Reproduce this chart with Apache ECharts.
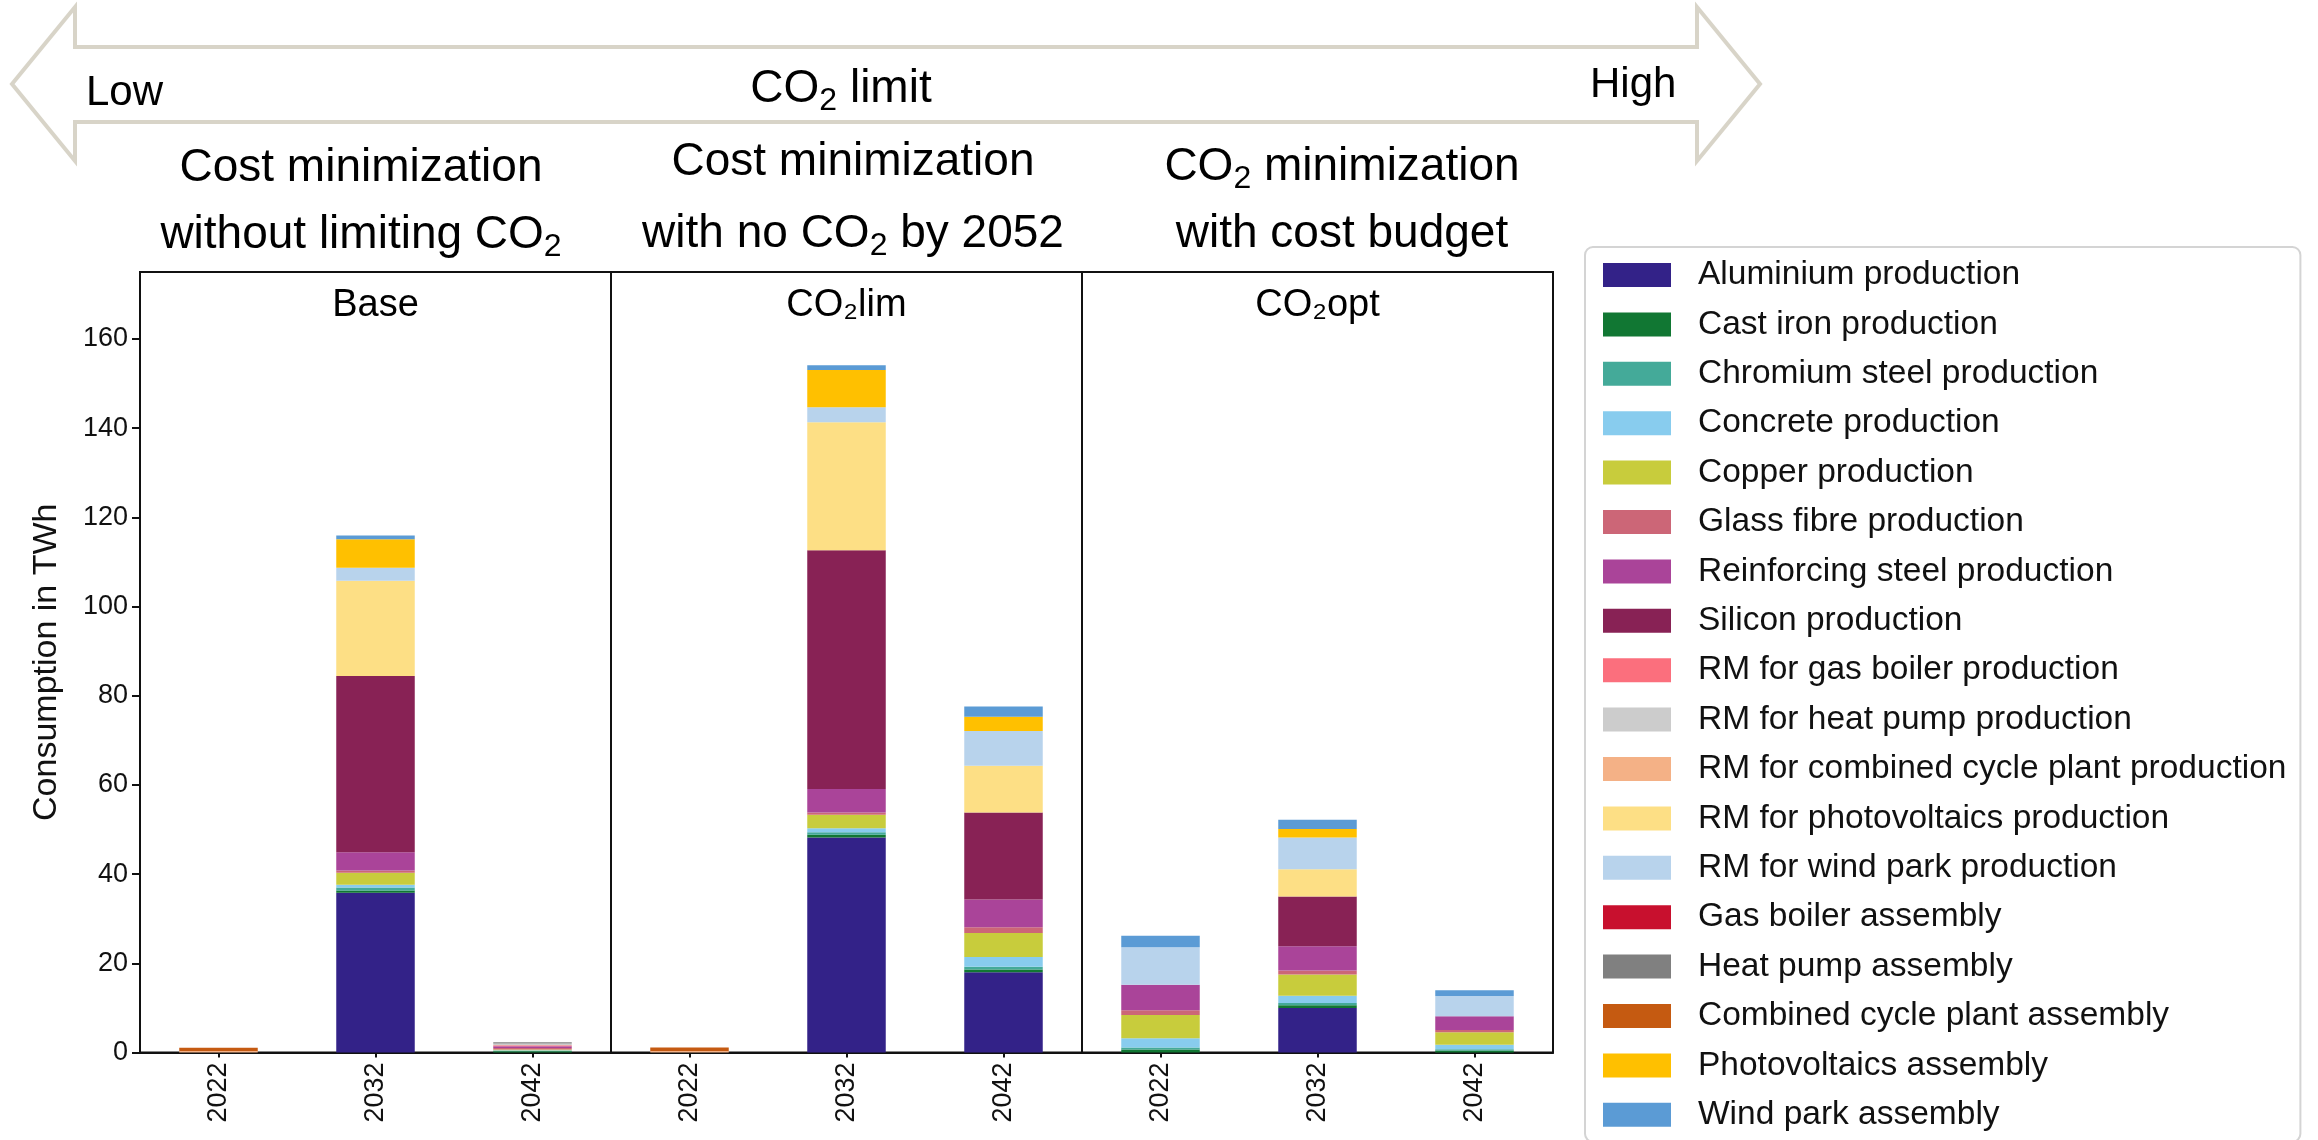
<!DOCTYPE html>
<html>
<head>
<meta charset="utf-8">
<script src="https://cdn.jsdelivr.net/npm/echarts@6/dist/echarts.min.js"></script>
<style>
  html, body { margin: 0; padding: 0; background: #fff; }
  #chart { width: 2318px; height: 1140px; }
</style>
</head>
<body>
<div id="chart"></div>
<script>
// ---- data -------------------------------------------------------------
const years = ['2022', '2032', '2042'];
const scenarios = ['Base', 'CO₂lim', 'CO₂opt'];
const yTicks = [0, 20, 40, 60, 80, 100, 120, 140, 160];

const components = [
  'Aluminium production',
  'Cast iron production',
  'Chromium steel production',
  'Concrete production',
  'Copper production',
  'Glass fibre production',
  'Reinforcing steel production',
  'Silicon production',
  'RM for gas boiler production',
  'RM for heat pump production',
  'RM for combined cycle plant production',
  'RM for photovoltaics production',
  'RM for wind park production',
  'Gas boiler assembly',
  'Heat pump assembly',
  'Combined cycle plant assembly',
  'Photovoltaics assembly',
  'Wind park assembly'
];

const componentColors = [
  '#332288', '#117733', '#44aa99', '#88ccee', '#c8cc3c', '#cc6677',
  '#aa4499', '#882255', '#fb6f7d', '#cccccc', '#f4b186', '#fddf85',
  '#b8d3ec', '#c8102e', '#808080', '#c55a11', '#ffc000', '#5b9bd5'
];

// Consumption in TWh, one row per component (same order as above),
// columns: 2022, 2032, 2042
const baseValues = [
  [0, 35.8, 0],
  [0, 0.5, 0.3],
  [0, 0.7, 0.1],
  [0, 0.6, 0.1],
  [0, 2.7, 0.2],
  [0, 0.5, 0.3],
  [0, 4.1, 0.4],
  [0, 39.5, 0],
  [0, 0, 0.2],
  [0, 0, 0.4],
  [0.35, 0, 0],
  [0, 21.4, 0],
  [0, 2.9, 0],
  [0, 0, 0],
  [0, 0, 0.3],
  [0.7, 0, 0],
  [0, 6.4, 0],
  [0, 0.8, 0]
];

const co2limValues = [
  [0, 48.2, 18.0],
  [0, 0.6, 0.6],
  [0, 0.6, 0.6],
  [0, 0.9, 2.2],
  [0, 3.0, 5.4],
  [0, 0.5, 1.3],
  [0, 5.3, 6.2],
  [0, 53.5, 19.5],
  [0, 0, 0],
  [0, 0, 0],
  [0.35, 0, 0],
  [0, 28.7, 10.5],
  [0, 3.4, 7.8],
  [0, 0, 0],
  [0, 0, 0],
  [0.75, 0, 0],
  [0, 8.3, 3.2],
  [0, 1.1, 2.3]
];

const co2optValues = [
  [0, 10.0, 0],
  [0.7, 0.6, 0.45],
  [0.4, 0.5, 0.3],
  [2.1, 1.6, 1.0],
  [5.2, 4.8, 2.8],
  [1.1, 0.9, 0.5],
  [5.7, 5.4, 3.1],
  [0, 11.2, 0],
  [0, 0, 0],
  [0, 0, 0],
  [0, 0, 0],
  [0, 6.1, 0],
  [8.4, 7.1, 4.5],
  [0, 0, 0],
  [0, 0, 0],
  [0, 0, 0],
  [0, 1.9, 0],
  [2.6, 2.1, 1.3]
];

const scenarioValues = [baseValues, co2limValues, co2optValues];

// ---- layout -----------------------------------------------------------
const FONT = '"Liberation Sans", Arial, Helvetica, sans-serif';
const panelLeft = [140, 611, 1082];
const panelWidth = 471;
const panelTop = 272;
const panelHeight = 780.5;

const grids = panelLeft.map(l => ({
  left: l, top: panelTop, width: panelWidth, height: panelHeight,
  show: true, borderColor: '#111', borderWidth: 2,
  backgroundColor: 'transparent', outerBoundsMode: 'none'
}));

const xAxes = panelLeft.map((_, i) => ({
  type: 'category', gridIndex: i, data: years,
  axisLine: { show: true, lineStyle: { color: '#111', width: 2 } },
  axisTick: { show: true, alignWithLabel: true, length: 5, lineStyle: { color: '#111', width: 2 } },
  axisLabel: { rotate: 90, fontSize: 27, color: '#111', fontFamily: FONT, margin: 10 },
  splitLine: { show: false }
}));

const yAxes = panelLeft.map((_, i) => ({
  type: 'value', gridIndex: i, min: 0, max: 175, interval: 20,
  splitLine: { show: false },
  axisLine: { show: true, lineStyle: { color: '#111', width: 2 } },
  axisTick: { show: i === 0, length: 8, customValues: yTicks, lineStyle: { color: '#111', width: 2 } },
  axisLabel: { show: i === 0, customValues: yTicks, fontSize: 27, color: '#111', fontFamily: FONT, margin: 12 },
  name: i === 0 ? 'Consumption in TWh' : '',
  nameLocation: 'middle', nameGap: 76,
  nameTextStyle: { fontSize: 34, color: '#111', fontFamily: FONT }
}));

const series = [];
scenarioValues.forEach((rows, s) => {
  rows.forEach((vals, c) => {
    series.push({
      type: 'bar', name: components[c],
      xAxisIndex: s, yAxisIndex: s, stack: 'total' + s,
      barWidth: '50%', data: vals,
      itemStyle: { color: componentColors[c] },
      emphasis: { disabled: true }
    });
  });
});

// Scenario headings above the panels, with CO2 subscripts as rich text
const rich = {
  m: { fontSize: 46, color: '#000', fontFamily: FONT },
  s: { fontSize: 32, color: '#000', fontFamily: FONT, padding: [24, 0, 0, 0] }
};
function heading(x, y, text) {
  return {
    type: 'text', x: x, y: y, silent: true,
    style: { text: text, rich: rich, align: 'center', verticalAlign: 'middle', font: '46px ' + FONT }
  };
}
const headingItems = [
  heading(361, 168, '{m|Cost minimization}'),
  heading(361, 235, '{m|without limiting CO}{s|2}'),
  heading(853, 162, '{m|Cost minimization}'),
  heading(853, 234, '{m|with no CO}{s|2}{m| by 2052}'),
  heading(1342, 167, '{m|CO}{s|2}{m| minimization}'),
  heading(1342, 234, '{m|with cost budget}')
];

// Panel labels inside the boxes
const panelLabels = scenarios.map((name, i) => ({
  type: 'text', x: panelLeft[i] + panelWidth / 2, y: 306, silent: true,
  style: { text: name, fill: '#000', font: '38px ' + FONT, align: 'center', verticalAlign: 'middle' }
}));

// Double-headed arrow for the CO2 limit scale
const arrow = {
  type: 'polygon', silent: true,
  shape: { points: [[12, 84], [75, 7], [75, 47], [1697, 47], [1697, 7], [1760, 84],
                    [1697, 161], [1697, 122], [75, 122], [75, 161]] },
  style: { fill: '#fff', stroke: '#d8d4c8', lineWidth: 4, lineJoin: 'miter' }
};
const arrowTexts = [
  { type: 'text', x: 86, y: 93, silent: true,
    style: { text: 'Low', fill: '#000', font: '42px ' + FONT, align: 'left', verticalAlign: 'middle' } },
  { type: 'text', x: 1590, y: 85, silent: true,
    style: { text: 'High', fill: '#000', font: '42px ' + FONT, align: 'left', verticalAlign: 'middle' } },
  { type: 'text', x: 841, y: 89, silent: true,
    style: { text: '{m|CO}{s|2}{m| limit}', rich: rich, align: 'center', verticalAlign: 'middle', font: '46px ' + FONT } }
];

const option = {
  animation: false,
  backgroundColor: '#fff',
  textStyle: { fontFamily: FONT },
  grid: grids,
  xAxis: xAxes,
  yAxis: yAxes,
  legend: {
    data: components,
    orient: 'vertical',
    left: 1585, top: 247, height: 900,
    padding: [11, 14, 10, 18],
    itemWidth: 68, itemHeight: 24, itemGap: 15.4,
    icon: 'rect',
    selectedMode: false,
    borderColor: '#d4d4d4', borderWidth: 2, borderRadius: 8,
    backgroundColor: '#fff',
    textStyle: { fontSize: 33.5, color: '#111', fontFamily: FONT, padding: [0, 0, 0, 22] }
  },
  graphic: [arrow].concat(arrowTexts, headingItems, panelLabels),
  series: series
};

const chart = echarts.init(document.getElementById('chart'), null, { renderer: 'canvas' });
chart.setOption(option);
</script>
</body>
</html>
